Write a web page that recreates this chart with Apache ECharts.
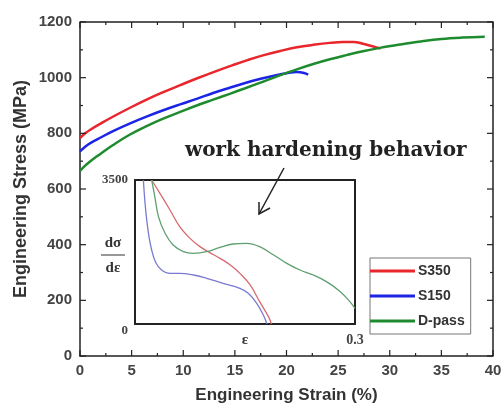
<!DOCTYPE html>
<html>
<head>
<meta charset="utf-8">
<script src="https://cdn.jsdelivr.net/npm/echarts@6/dist/echarts.min.js"></script>
<style>
  html, body { margin: 0; padding: 0; background: #fff; }
  #chart { width: 503px; height: 413px; }
</style>
</head>
<body>
<div id="chart"></div>
<script>
// main tensile curves: [strain %, stress MPa]
const s350 = [[0,783],[0.5,800],[1,813],[2,835],[3,856],[4.8,891],[6.5,922],[8,947],[9.7,973],[11.3,997],[13,1021],[14.8,1045],[16.3,1064],[17.8,1081],[19.4,1096],[21,1109],[22.6,1118],[24.2,1125],[25.5,1128],[26.5,1128],[27.4,1122],[28.4,1112],[29.1,1105]];
const s150 = [[0,735],[0.5,752],[1,765],[2,785],[3.2,808],[4.8,835],[6.5,861],[8,882],[9.7,904],[11.3,924],[12.9,945],[14.5,964],[16,981],[17.5,996],[19,1009],[20,1016],[21,1020],[21.7,1017],[22.1,1011]];
const dpass = [[0,665],[0.5,684],[1,700],[2,727],[3.2,758],[4.8,795],[6.5,827],[8,852],[9.7,877],[11.3,900],[12.9,921],[14.5,942],[16,962],[17.75,986],[19.4,1009],[21,1030],[22.6,1049],[24.2,1066],[25.8,1081],[27.4,1095],[29.05,1107],[31,1119],[33,1130],[35,1139],[37,1144],[39.2,1147]];

// inset: work hardening rate dσ/dε vs true strain ε
const s350Rate = [[0.0227,3500],[0.034,3176],[0.0477,2770],[0.061,2366],[0.075,2082],[0.0886,1880],[0.102,1734],[0.116,1596],[0.13,1434],[0.143,1231],[0.157,948],[0.17,543],[0.182,178],[0.186,0]];
const s150Rate = [[0.0114,3500],[0.016,2528],[0.0227,1799],[0.0318,1394],[0.0477,1231],[0.061,1231],[0.0795,1191],[0.0977,1110],[0.12,988],[0.143,867],[0.1545,745],[0.166,502],[0.175,219],[0.18,0]];
const dpassRate = [[0.0227,3500],[0.027,3095],[0.032,2609],[0.041,2204],[0.052,1920],[0.066,1758],[0.0795,1718],[0.0977,1758],[0.116,1863],[0.134,1944],[0.152,1961],[0.17,1880],[0.189,1677],[0.207,1474],[0.225,1312],[0.243,1191],[0.261,1029],[0.28,786],[0.293,543],[0.3,380]];

// tick positions of the main frame
const xMajor = [0, 5, 10, 15, 20, 25, 30, 35, 40];
const xMinor = [2.5, 7.5, 12.5, 17.5, 22.5, 27.5, 32.5, 37.5];
const yMajor = [0, 200, 400, 600, 800, 1000, 1200];
const yMinor = [100, 300, 500, 700, 900, 1100];

const names = ['S350', 'S150', 'D-pass'];
const mainColors = ['#e8262b', '#1c24e6', '#1e8c2e'];
const insetColors = ['#d8696e', '#7a7ad0', '#5f9f6f'];

const sansBold = { fontFamily: 'Liberation Sans', fontWeight: 'bold' };
const serifBold = { fontFamily: 'Liberation Serif', fontWeight: 'bold' };
const lineOf = (w) => ({ show: true, onZero: false, lineStyle: { color: '#222', width: w } });
const ink = { stroke: '#222', lineWidth: 1.2 };

const chart = echarts.init(document.getElementById('chart'), null, { renderer: 'canvas' });

const mainSeries = [s350, s150, dpass].map((d, i) => ({
    name: names[i], type: 'line', data: d, smooth: 0.4, showSymbol: false,
    xAxisIndex: 0, yAxisIndex: 0, z: 3,
    lineStyle: { color: mainColors[i], width: 2.5 }, itemStyle: { color: mainColors[i] }
}));
const insetSeries = [s350Rate, s150Rate, dpassRate].map((d, i) => ({
    name: names[i] + ' rate', type: 'line', data: d, smooth: 0.4, showSymbol: false,
    xAxisIndex: 1, yAxisIndex: 1, z: 6,
    lineStyle: { color: insetColors[i], width: 1.3 }
}));

// inward ticks (top + bottom / left + right) drawn through the main axes
const xTicks = (vals, len) => ({
    type: 'custom', xAxisIndex: 0, yAxisIndex: 0, silent: true, clip: false, z: 8,
    data: vals.map(v => [v, 0]),
    renderItem: (params, api) => {
        const b = api.coord([api.value(0), 0]), t = api.coord([api.value(0), 1200]);
        return { type: 'group', children: [
            { type: 'line', shape: { x1: b[0], y1: b[1], x2: b[0], y2: b[1] - len }, style: ink },
            { type: 'line', shape: { x1: t[0], y1: t[1], x2: t[0], y2: t[1] + len }, style: ink }
        ] };
    }
});
const yTicks = (vals, len) => ({
    type: 'custom', xAxisIndex: 0, yAxisIndex: 0, silent: true, clip: false, z: 8,
    data: vals.map(v => [0, v]),
    renderItem: (params, api) => {
        const l = api.coord([0, api.value(1)]), r = api.coord([40, api.value(1)]);
        return { type: 'group', children: [
            { type: 'line', shape: { x1: l[0], y1: l[1], x2: l[0] + len, y2: l[1] }, style: ink },
            { type: 'line', shape: { x1: r[0], y1: r[1], x2: r[0] - len, y2: r[1] }, style: ink }
        ] };
    }
});
// top and right edges of the main frame
const frame = {
    type: 'custom', xAxisIndex: 0, yAxisIndex: 0, silent: true, clip: false, z: 8,
    data: [[40, 1200]],
    renderItem: (params, api) => {
        const tl = api.coord([0, 1200]), tr = api.coord([40, 1200]), br = api.coord([40, 0]);
        return { type: 'polyline', shape: { points: [tl, tr, br] },
                 style: { stroke: '#222', lineWidth: 1.5, fill: null } };
    }
};

try {
chart.setOption({
    animation: false,
    backgroundColor: '#fff',
    grid: [
        { left: 80, top: 22, right: 10, bottom: 57, outerBoundsMode: 'none' },
        { left: 135, top: 180, width: 220, height: 144, outerBoundsMode: 'none' }
    ],
    legend: {
        data: names, left: 370, top: 258, orient: 'vertical',
        icon: 'rect', itemWidth: 45, itemHeight: 3, itemGap: 9,
        padding: [5, 6, 5, 0], borderColor: '#777', borderWidth: 1,
        backgroundColor: '#fff',
        textStyle: { ...sansBold, fontSize: 14, color: '#333', lineHeight: 16, padding: [0, 0, 0, -2] }
    },
    xAxis: [
        { type: 'value', gridIndex: 0, min: 0, max: 40, interval: 5,
          name: 'Engineering Strain (%)', nameLocation: 'middle', nameGap: 31, nameMoveOverlap: false,
          nameTextStyle: { ...sansBold, fontSize: 17, color: '#333' },
          axisLine: lineOf(1.5), splitLine: { show: false }, axisTick: { show: false },
          axisLabel: { ...sansBold, fontSize: 15, color: '#444', margin: 7 } },
        { type: 'value', gridIndex: 1, min: 0, max: 0.3, interval: 0.3,
          name: 'ε', nameLocation: 'middle', nameGap: 9, nameMoveOverlap: false,
          nameTextStyle: { ...serifBold, fontSize: 15, color: '#333' },
          axisLine: lineOf(2), splitLine: { show: false }, axisTick: { show: false },
          axisLabel: { showMinLabel: false, ...serifBold, fontSize: 14, color: '#444', margin: 9 } },
        { type: 'value', gridIndex: 1, position: 'top', min: 0, max: 0.3, interval: 0.3,
          axisLine: lineOf(2), splitLine: { show: false },
          axisTick: { show: false }, axisLabel: { show: false } }
    ],
    yAxis: [
        { type: 'value', gridIndex: 0, min: 0, max: 1200, interval: 200,
          name: 'Engineering Stress (MPa)', nameLocation: 'middle', nameGap: 50, nameMoveOverlap: false,
          nameTextStyle: { ...sansBold, fontSize: 18, color: '#333' },
          axisLine: lineOf(1.5), splitLine: { show: false }, axisTick: { show: false },
          axisLabel: { ...sansBold, fontSize: 15, color: '#444', margin: 8, formatter: v => String(v) } },
        { type: 'value', gridIndex: 1, min: 0, max: 3500, interval: 3500,
          axisLine: lineOf(2), splitLine: { show: false }, axisTick: { show: false },
          axisLabel: { ...serifBold, fontSize: 13, color: '#444', margin: 7,
                       formatter: v => v === 0 ? '{z|0}' : String(v),
                       rich: { z: { ...serifBold, fontSize: 13, color: '#444', padding: [14, 0, 0, 0] } } } },
        { type: 'value', gridIndex: 1, position: 'right', min: 0, max: 3500, interval: 3500,
          axisLine: lineOf(2), splitLine: { show: false },
          axisTick: { show: false }, axisLabel: { show: false } }
    ],
    graphic: [
        { type: 'text', left: 185, top: 141, z: 10,
          style: { text: 'work hardening behavior', fill: '#222',
                   font: 'bold 20px "DejaVu Serif"' } },
        { type: 'polyline', z: 10,
          shape: { points: [[284, 168], [259, 214]] },
          style: { stroke: '#222', lineWidth: 1.5, fill: null } },
        { type: 'polyline', z: 10,
          shape: { points: [[270, 208], [259, 214], [259, 202]] },
          style: { stroke: '#222', lineWidth: 1.5, fill: null } },
        // dσ/dε label of the inset
        { type: 'text', x: 113, y: 243, z: 10,
          style: { text: 'dσ', fill: '#333', font: 'bold 15px "Liberation Serif"', align: 'center', verticalAlign: 'middle' } },
        { type: 'line', z: 10, shape: { x1: 101, y1: 255, x2: 125, y2: 255 },
          style: { stroke: '#333', lineWidth: 1 } },
        { type: 'text', x: 113, y: 268, z: 10,
          style: { text: 'dε', fill: '#333', font: 'bold 15px "Liberation Serif"', align: 'center', verticalAlign: 'middle' } }
    ],
    series: [frame, xTicks(xMajor, 6), xTicks(xMinor, 3), yTicks(yMajor, 6), yTicks(yMinor, 3),
             ...mainSeries, ...insetSeries]
}, true);
} catch (e) { console.error(e); }

window.addEventListener('resize', () => chart.resize());
</script>
</body>
</html>
